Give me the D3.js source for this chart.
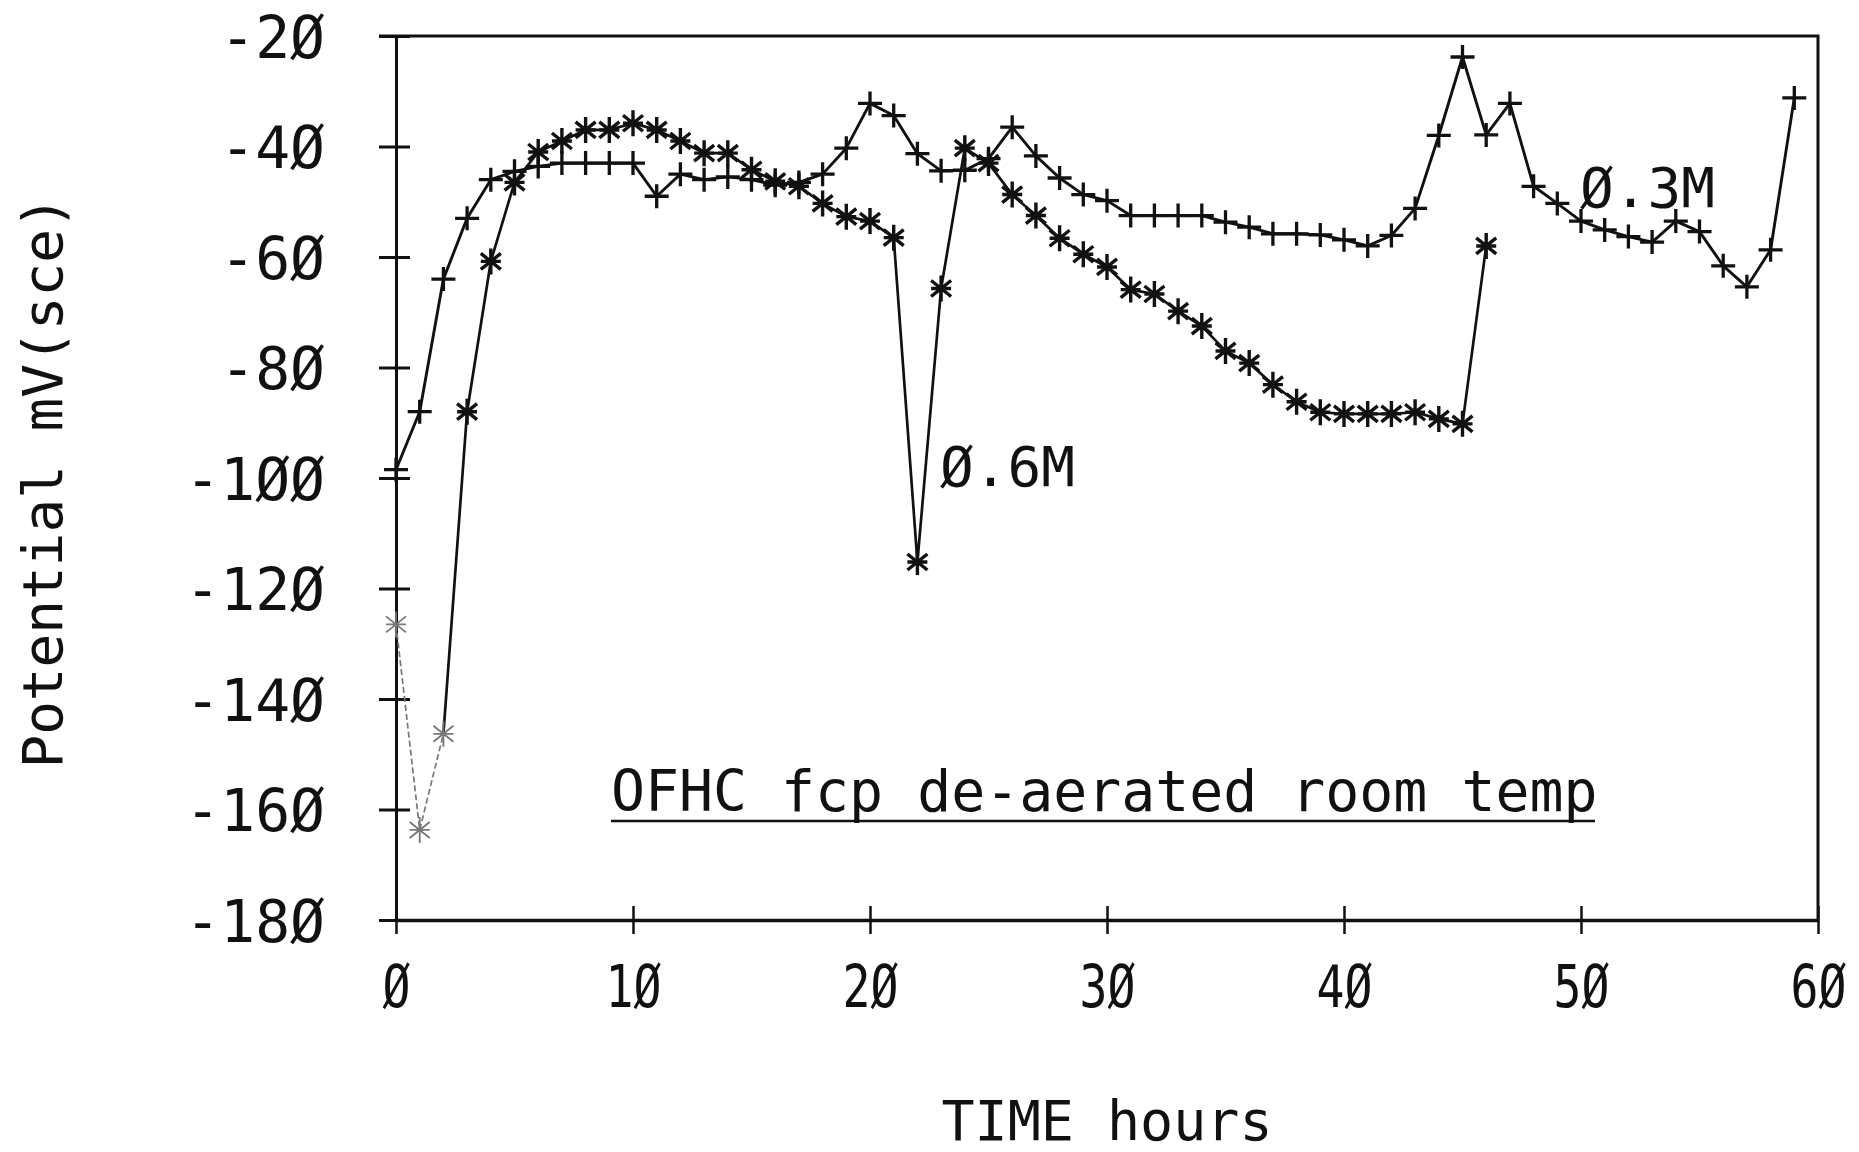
<!DOCTYPE html>
<html>
<head>
<meta charset="utf-8">
<script src="https://cdn.jsdelivr.net/npm/d3@7/dist/d3.min.js"></script>
<style>
  html, body { margin: 0; padding: 0; background: #fff; }
  svg { display: block; }
  text { font-family: "DejaVu Sans Mono", "Liberation Mono", monospace; fill: #111; }
</style>
</head>
<body>
<svg id="chart" width="1859" height="1152"></svg>
<script>
// ---------- data ----------
const hours03 = d3.range(0, 60);          // 0 .. 59 h
const potential03 = [
  -98.5, -88, -64, -53, -46, -44.5, -43.6, -43, -43, -43,
  -43, -49, -45, -46, -45.5, -46, -47, -46.5, -45, -40.3,
  -32.2, -34.4, -41.3, -44.4, -44.3, -42.2, -36.5, -41.7, -45.7, -48.7,
  -49.8, -52.5, -52.5, -52.5, -52.5, -53.7, -54.6, -55.8, -55.8, -56,
  -56.9, -58, -56.1, -51.2, -38, -23.8, -37.9, -32.2, -47.2, -50.3,
  -53.5, -55.1, -56.3, -57.3, -53.5, -55.4, -61.6, -65.4, -58.7, -31.2
];
const hours06 = d3.range(0, 47);          // 0 .. 46 h
const potential06 = [
  -126.5, -163.7, -146.3, -88, -60.8, -46.5, -41, -39, -37, -37,
  -35.8, -37, -39, -41.2, -41.2, -44.2, -46.3, -47.2, -50.3, -52.7,
  -53.5, -56.5, -115.2, -65.7, -40.3, -43, -48.7, -52.5, -56.6, -59.5,
  -61.8, -65.9, -66.7, -69.8, -72.5, -77, -79.2, -83.1, -86.2, -88.1,
  -88.4, -88.4, -88.4, -88.1, -89.3, -90.2, -58
];
const faintPoints06 = 3;   // first pen strokes of the 0.6M curve are faint in the original

const xTickValues = [0, 10, 20, 30, 40, 50, 60];
const xTickLabels = ["Ø", "1Ø", "2Ø", "3Ø", "4Ø", "5Ø", "6Ø"];
const yTickValues = [-20, -40, -60, -80, -100, -120, -140, -160, -180];
const yTickLabels = ["-2Ø", "-4Ø", "-6Ø", "-8Ø", "-1ØØ", "-12Ø", "-14Ø", "-16Ø", "-18Ø"];

const xTitle = "TIME hours";
const yTitle = "Potential mV(sce)";
const label03 = "Ø.3M";
const label06 = "Ø.6M";
const noteText = "OFHC fcp de-aerated room temp";

// ---------- layout ----------
const svg = d3.select("#chart");
const x = d3.scaleLinear().domain([0, 60]).range([396, 1818]);
const y = d3.scaleLinear().domain([-180, -20]).range([920, 36]);
const tick = 14;

// left axis
const gy = svg.append("g").attr("transform", `translate(${x(0)},0)`)
  .call(d3.axisLeft(y).tickValues(yTickValues).tickSizeOuter(0).tickSizeInner(tick)
        .tickFormat((d, i) => yTickLabels[i]));
gy.select(".domain").attr("stroke", "#111").attr("stroke-width", 3);
gy.selectAll(".tick line").attr("x1", tick).attr("x2", -tick - 3).attr("stroke", "#111").attr("stroke-width", 3);
gy.selectAll(".tick text")
  .attr("x", -71).attr("dy", 21)
  .style("font-size", "58px").style("font-family", '"DejaVu Sans Mono", monospace')
  .attr("fill", "#111");

// bottom axis
const gx = svg.append("g").attr("transform", `translate(0,${y(-180)})`)
  .call(d3.axisBottom(x).tickValues(xTickValues).tickSizeOuter(0).tickSizeInner(tick)
        .tickFormat((d, i) => xTickLabels[i]));
gx.select(".domain").attr("stroke", "#111").attr("stroke-width", 3.5);
gx.selectAll(".tick line").attr("y1", -tick).attr("y2", tick).attr("stroke", "#111").attr("stroke-width", 2.5);
gx.selectAll(".tick text")
  .attr("y", 87).attr("dy", 0)
  .attr("transform", "scale(0.8,1)")
  .style("font-size", "58px").style("font-family", '"DejaVu Sans Mono", monospace')
  .attr("fill", "#111");

// frame (top & right)
svg.append("path")
  .attr("d", `M${x(0) - tick - 3},${y(-20)} H${x(60)} V${y(-180)}`)
  .attr("fill", "none").attr("stroke", "#111").attr("stroke-width", 3);

// ---------- series ----------
const line = d3.line().x(d => x(d[0])).y(d => y(d[1]));
const pts03 = hours03.map((h, i) => [h, potential03[i]]);
const pts06 = hours06.map((h, i) => [h, potential06[i]]);

const plot = svg.append("g");

plot.append("path").attr("d", line(pts03))
  .attr("fill", "none").attr("stroke", "#111").attr("stroke-width", 2.9).attr("stroke-linejoin", "round");

plot.append("path").attr("d", line(pts06.slice(0, faintPoints06)))
  .attr("fill", "none").attr("stroke", "#777").attr("stroke-width", 1.7).attr("stroke-dasharray", "6,3");
plot.append("path").attr("d", line(pts06.slice(faintPoints06 - 1)))
  .attr("fill", "none").attr("stroke", "#111").attr("stroke-width", 2.7).attr("stroke-linejoin", "round");

// plus markers
const p = 12;
plot.selectAll(".plus").data(pts03).join("path").attr("class", "plus")
  .attr("d", d => `M${x(d[0]) - p},${y(d[1])}h${2 * p}M${x(d[0])},${y(d[1]) - p}v${2 * p}`)
  .attr("stroke", "#111").attr("stroke-width", 3.3).attr("fill", "none");

// star markers
const sv = 13, sdx = 10, sdy = 8, sh = 10;
plot.selectAll(".star").data(pts06).join("path").attr("class", "star")
  .attr("d", d => {
    const cx = x(d[0]), cy = y(d[1]);
    return `M${cx},${cy - sv}v${2 * sv}` +
           `M${cx - sdx},${cy - sdy}L${cx + sdx},${cy + sdy}` +
           `M${cx - sdx},${cy + sdy}L${cx + sdx},${cy - sdy}` +
           `M${cx - sh},${cy}h${2 * sh}`;
  })
  .attr("stroke", (d, i) => i < faintPoints06 ? "#777" : "#111")
  .attr("stroke-width", (d, i) => i < faintPoints06 ? 1.8 : 3.4)
  .attr("fill", "none");

// ---------- texts ----------
const font = '"DejaVu Sans Mono", monospace';
svg.append("text").text(label06).attr("x", 940).attr("y", 486)
  .style("font-size", "56px").style("font-family", font);
svg.append("text").text(label03).attr("x", 1580).attr("y", 207)
  .style("font-size", "56px").style("font-family", font);
svg.append("text").text(noteText).attr("x", 611).attr("y", 811)
  .style("font-size", "56.5px").style("font-family", font);
svg.append("line").attr("x1", 611).attr("x2", 1595).attr("y1", 821).attr("y2", 821)
  .attr("stroke", "#111").attr("stroke-width", 2.5);

svg.append("text").text(xTitle).attr("x", (x(0) + x(60)) / 2).attr("y", 1140)
  .attr("text-anchor", "middle").style("font-size", "55px").style("font-family", font);
svg.append("text").text(yTitle)
  .attr("transform", "translate(62,482) rotate(-90)")
  .attr("text-anchor", "middle").style("font-size", "56px").style("font-family", font);
</script>
</body>
</html>
